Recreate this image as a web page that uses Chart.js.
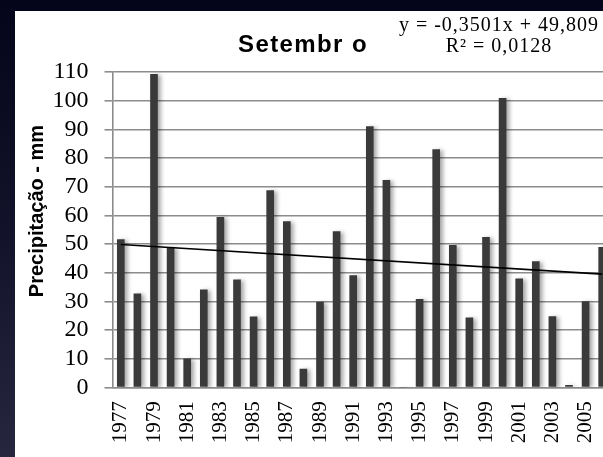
<!DOCTYPE html>
<html>
<head>
<meta charset="utf-8">
<script src="https://cdn.jsdelivr.net/npm/chart.js@4/dist/chart.umd.min.js"></script>
<style>
  html, body { margin: 0; padding: 0; width: 603px; height: 457px; overflow: hidden; }
  body { background: linear-gradient(to bottom, #04041a 0%, #12122a 50%, #26263e 100%); position: relative; }
  #wrap { position: absolute; left: 15px; top: 11px; width: 598px; height: 446px; background: #ffffff; }
  canvas { display: block; }
</style>
</head>
<body>
<div id="wrap"><canvas id="c" width="598" height="446"></canvas></div>
<script>
// ---- data ----
const years = ["1977","1978","1979","1980","1981","1982","1983","1984","1985","1986",
               "1987","1988","1989","1990","1991","1992","1993","1994","1995","1996",
               "1997","1998","1999","2000","2001","2002","2003","2004","2005","2006"];
const precipitation = [51.5, 32.6, 109.2, 48.8, 9.9, 34.0, 59.3, 37.5, 24.6, 68.6,
                       57.8, 6.4, 29.7, 54.3, 39.0, 91.0, 72.2, 0, 30.7, 82.9,
                       49.5, 24.2, 52.3, 100.8, 37.8, 43.9, 24.7, 0.7, 29.9, 48.8];
// trend line end points (first and last category)
const trendStart = 49.8;
const trendEnd = 39.5;
const yTicks = [0, 10, 20, 30, 40, 50, 60, 70, 80, 90, 100, 110];
const titleText = "Setembr o";
const yTitle = "Precipitação - mm";
const eqLine1 = "y = -0,3501x + 49,809";
const eqLine2 = "R² = 0,0128";

const trendData = years.map((y, i) => i === 0 ? trendStart : (i === years.length - 1 ? trendEnd : null));

const shadowPlugin = {
  id: 'barShadow',
  beforeDatasetDraw(chart, args) {
    if (args.index === 0) {
      const ctx = chart.ctx;
      ctx.save();
      ctx.shadowColor = 'rgba(0,0,0,0.35)';
      ctx.shadowBlur = 4;
      ctx.shadowOffsetX = 3;
      ctx.shadowOffsetY = 1;
    }
  },
  afterDatasetDraw(chart, args) {
    if (args.index === 0) chart.ctx.restore();
  }
};

const textPlugin = {
  id: 'texts',
  afterDraw(chart) {
    const ctx = chart.ctx;
    ctx.save();
    ctx.fillStyle = '#000';
    // title
    ctx.font = 'bold 24px "Liberation Sans", Arial, sans-serif';
    ctx.textAlign = 'left';
    ctx.textBaseline = 'alphabetic';
    ctx.letterSpacing = '1.4px';
    ctx.fillText(titleText, 223, 41);
    // equation
    ctx.font = '20px "Liberation Serif", "Times New Roman", serif';
    ctx.textAlign = 'center';
    ctx.letterSpacing = '1px';
    ctx.fillText(eqLine1, 484, 20);
    ctx.fillText(eqLine2, 484, 41);
    ctx.letterSpacing = '0px';
    // y axis title
    ctx.font = 'bold 20px "Liberation Sans", Arial, sans-serif';
    ctx.translate(28, 200);
    ctx.rotate(-Math.PI / 2);
    ctx.textAlign = 'center';
    ctx.textBaseline = 'alphabetic';
    ctx.fillText(yTitle, 0, 0);
    ctx.restore();
  }
};

new Chart(document.getElementById('c'), {
  data: {
    labels: years,
    datasets: [
      {
        type: 'bar',
        data: precipitation,
        backgroundColor: '#3a3a3a',
        borderWidth: 0,
        barThickness: 7,
        order: 1
      },
      {
        type: 'line',
        data: trendData,
        spanGaps: true,
        borderColor: '#000000',
        borderWidth: 1.6,
        pointRadius: 0,
        fill: false,
        order: 0
      }
    ]
  },
  options: {
    responsive: false,
    animation: false,
    devicePixelRatio: 1,
    layout: { padding: { top: 61, right: 2.5, left: 0, bottom: 0 } },
    plugins: { legend: { display: false }, tooltip: { enabled: false }, title: { display: false } },
    scales: {
      x: {
        offset: true,
        grid: { display: false, drawTicks: false },
        border: { display: true, color: '#8c8c8c', width: 1.6 },
        ticks: {
          autoSkip: false,
          minRotation: 90,
          maxRotation: 90,
          padding: 14,
          color: '#000',
          font: { family: '"Liberation Serif", "Times New Roman", serif', size: 21 },
          callback: function (val, idx) { return idx % 2 === 0 ? years[idx] : ''; }
        },
        afterFit(scale) { scale.height = 69.7; scale.paddingLeft = 0; scale.paddingRight = 0; }
      },
      y: {
        min: 0,
        max: 110,
        afterBuildTicks(scale) { scale.ticks = yTicks.map(v => ({ value: v })); },
        grid: { color: '#8c8c8c', lineWidth: 1.6, tickLength: 8, drawTicks: true },
        border: { display: true, color: '#8c8c8c', width: 1.6 },
        ticks: {
          autoSkip: false,
          padding: 16,
          color: '#000',
          font: { family: '"Liberation Serif", "Times New Roman", serif', size: 24 }
        },
        afterFit(scale) { scale.width = 97.5; scale.paddingTop = 0; scale.paddingBottom = 0; }
      }
    }
  },
  plugins: [shadowPlugin, textPlugin]
});
</script>
</body>
</html>
